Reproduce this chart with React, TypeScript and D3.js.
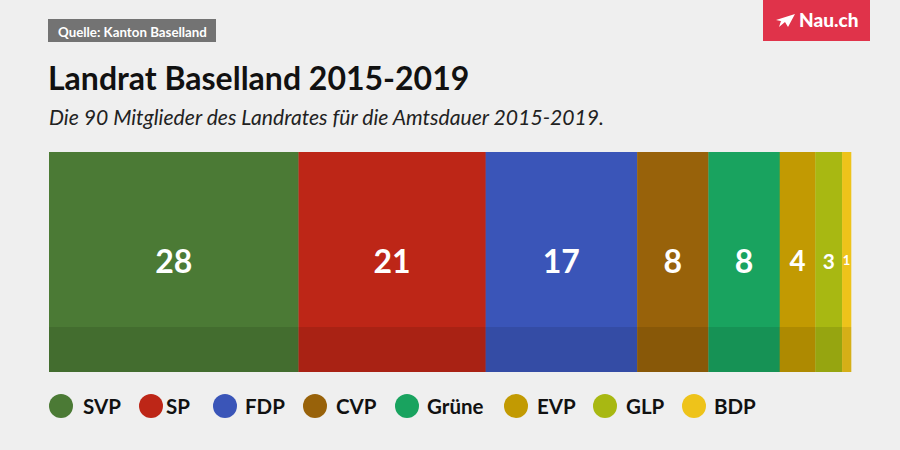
import React from "react";
import * as d3 from "d3";

const parties = ["SVP", "SP", "FDP", "CVP", "Grüne", "EVP", "GLP", "BDP"];
const seats = [28, 21, 17, 8, 8, 4, 3, 1];
const colors = ["#4b7a35", "#bd2617", "#3a55b8", "#98620a", "#19a35f", "#c29a02", "#a8b812", "#eec31a"];
const legendCircleX = [61, 151, 225, 315, 407, 516, 605, 694];
const legendTextX = [83, 166, 245, 336, 427, 537, 626, 714];

const W = 900;
const H = 450;
const FONT = "Lato, 'Open Sans', sans-serif";

export default function App() {
  const total = d3.sum(seats);
  const x = d3.scaleLinear().domain([0, total]).range([49, 851]);
  const starts = seats.map((_, i) => d3.sum(seats.slice(0, i)));
  const barTop = 152;
  const barBottom = 372;
  const bandTop = 327;

  return (
    <svg width={W} height={H} style={{ position: "absolute", left: 0, top: 0, fontFamily: FONT }}>
      <rect width={W} height={H} fill="#efefef" />
      {/* source label */}
      <rect x={48} y={19} width={168} height={23} fill="#737373" />
      <text x={58} y={37} fontSize={13.3} fontWeight={700} fill="#fff">Quelle: Kanton Baselland</text>
      {/* logo */}
      <rect x={763} y={0} width={107} height={41} fill="#e0334a" />
      <path d="M776,20 L795,14 L788,27 L785,22 Z M785,22 L779,27 L781,21 Z" fill="#fff" />
      <text x={799} y={27} fontSize={19} fontWeight={900} fill="#fff">Nau.ch</text>
      {/* titles */}
      <text x={48} y={90} fontSize={32} fontWeight={700} fill="#111">Landrat Baselland 2015-2019</text>
      <text x={49} y={125} fontSize={21.15} fontStyle="italic" fill="#222">Die 90 Mitglieder des Landrates für die Amtsdauer 2015-2019.</text>
      {/* bars */}
      {seats.map((s, i) => {
        const x0 = x(starts[i]);
        const x1 = x(starts[i] + s);
        const w = x1 - x0;
        const fs = Math.min(32, Math.max(13, w * 0.78));
        return (
          <g key={parties[i]}>
            <rect x={x0} y={barTop} width={w + 0.3} height={barBottom - barTop} fill={colors[i]} />
            <rect x={x0} y={bandTop} width={w + 0.3} height={barBottom - bandTop} fill="#000" opacity={0.1} />
            <text
              x={(x0 + x1) / 2}
              y={260}
              fontSize={fs}
              fontWeight={700}
              fill="#fff"
              textAnchor="middle"
              dominantBaseline="central"
            >
              {s}
            </text>
          </g>
        );
      })}
      {/* legend */}
      {parties.map((p, i) => (
        <g key={p}>
          <circle cx={legendCircleX[i]} cy={406} r={12} fill={colors[i]} />
          <text x={legendTextX[i]} y={413.5} fontSize={20.5} fontWeight={700} fill="#111">{p}</text>
        </g>
      ))}
    </svg>
  );
}
